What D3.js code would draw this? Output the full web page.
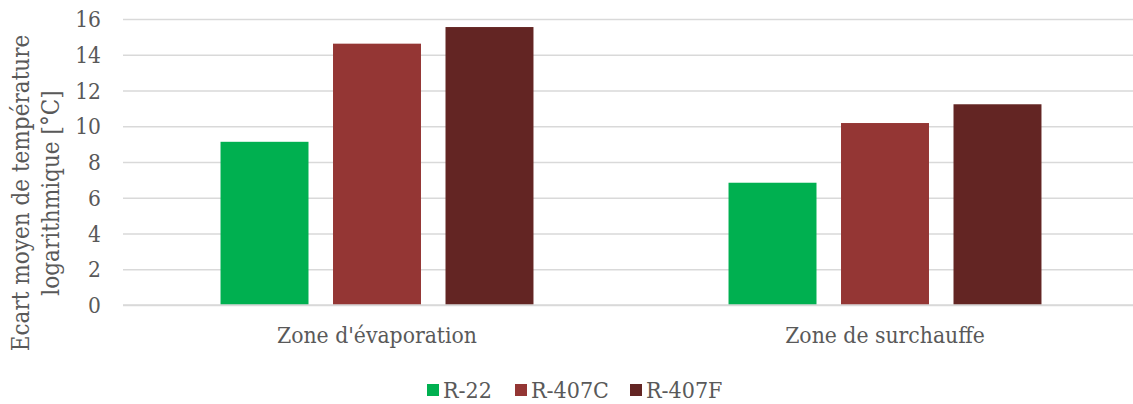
<!DOCTYPE html>
<html><head><meta charset="utf-8">
<script src="https://cdn.jsdelivr.net/npm/d3@7"></script>
<style>
html,body{margin:0;padding:0;background:#fff;}
svg text{font-family:"DejaVu Serif Condensed","DejaVu Serif",serif;font-stretch:condensed;fill:#595959;}
</style></head>
<body><svg id="c" width="1133" height="404"></svg>
<script>
const categories = ["Zone d'évaporation", "Zone de surchauffe"];
const seriesNames = ["R-22", "R-407C", "R-407F"];
const seriesColors = ["#00B050", "#943634", "#632523"];
const valuesR22 = [9.13, 6.84];
const valuesR407C = [14.62, 10.18];
const valuesR407F = [15.55, 11.23];
const yTicks = [0, 2, 4, 6, 8, 10, 12, 14, 16];
const yTitle = ["Ecart moyen de température", "logarithmique [°C]"];

const seriesValues = [valuesR22, valuesR407C, valuesR407F];
const svg = d3.select("#c");
const W = 1133, H = 404;
const y = d3.scaleLinear().domain([0, 16]).range([305, 19]);
const x0 = d3.scaleBand().domain(categories).range([123, 1139]).paddingInner(0).paddingOuter(0);
const x1 = d3.scaleBand().domain(seriesNames).range([0, x0.bandwidth()]).paddingInner(0.218).paddingOuter(0.867);

// gridlines
const yAxis = d3.axisLeft(y).tickValues(yTicks).tickSize(-(W - 123)).tickPadding(22).tickFormat(d3.format("d"));
const gy = svg.append("g").attr("transform", "translate(123,0)").call(yAxis);
gy.select(".domain").remove();
gy.selectAll(".tick line").attr("stroke", "#d9d9d9").attr("stroke-width", 1.3);
gy.selectAll(".tick text").attr("font-size", 22.5).attr("fill", "#595959").attr("dy", "0.34em");

// bars
const groups = svg.append("g").selectAll("g").data(categories).join("g")
  .attr("transform", d => `translate(${x0(d)},0)`);
seriesNames.forEach((s, si) => {
  groups.append("rect")
    .attr("x", x1(s))
    .attr("width", x1.bandwidth())
    .attr("y", (d, ci) => y(seriesValues[si][ci]))
    .attr("height", (d, ci) => y(0) - y(seriesValues[si][ci]))
    .attr("fill", seriesColors[si]);
});

// x axis
const xAxis = d3.axisBottom(x0).tickSize(0).tickPadding(22);
const gx = svg.append("g").attr("transform", "translate(0,305)").call(xAxis);
gx.select(".domain").attr("stroke", "#d9d9d9").attr("stroke-width", 1.3).attr("d", `M123,0H${W}`);
gx.selectAll(".tick text").attr("font-size", 22.7).attr("fill", "#595959");

// y title
const yt = svg.append("text").attr("transform", "translate(21,193) rotate(-90)").attr("text-anchor", "middle").attr("font-size", 24);
yt.append("tspan").attr("x", 0).attr("dy", "0.35em").text(yTitle[0]);
yt.append("tspan").attr("x", 0).attr("dy", "1.25em").text(yTitle[1]);

// legend
const legX = [427, 515, 630];
const leg = svg.append("g").selectAll("g").data(seriesNames).join("g")
  .attr("transform", (d, i) => `translate(${legX[i]},384)`);
leg.append("rect").attr("width", 12).attr("height", 12).attr("fill", (d, i) => seriesColors[i]);
leg.append("text").attr("x", 16).attr("y", 6).attr("dy", "0.36em").attr("font-size", 23).text(d => d);
</script></body></html>
